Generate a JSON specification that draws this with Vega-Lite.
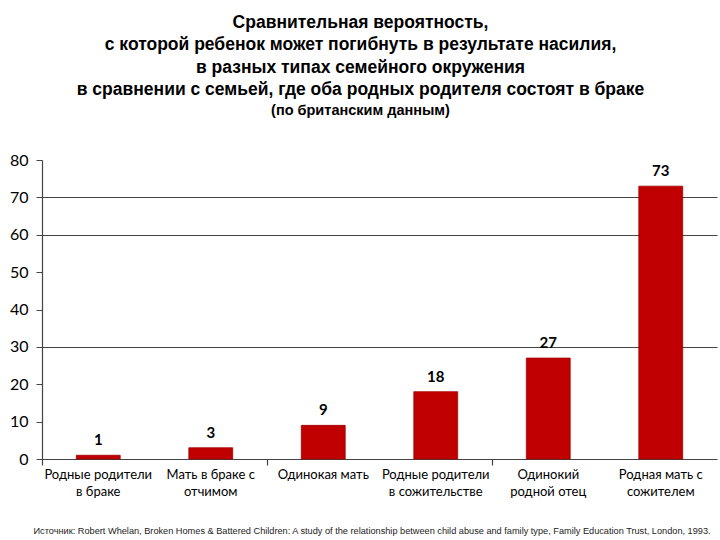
{
  "$schema": "https://vega.github.io/schema/vega-lite/v6.json",
  "autosize": "none",
  "width": 675,
  "height": 299,
  "padding": {"left": 42, "top": 160, "right": 3, "bottom": 81},
  "background": "white",
  "config": {"view": {"stroke": null}},
  "title": {
    "text": ["Сравнительная вероятность,", "с которой ребенок может погибнуть в результате насилия,", "в разных типах семейного окружения", "в сравнении с семьей, где оба родных родителя состоят в браке"],
    "subtitle": "(по британским данным)",
    "font": "Liberation Sans",
    "fontSize": 17.5,
    "fontWeight": "bold",
    "lineHeight": 22.5,
    "color": "black",
    "subtitleFont": "Liberation Sans",
    "subtitleFontSize": 14.5,
    "subtitleFontWeight": "bold",
    "subtitleColor": "black",
    "subtitlePadding": 5,
    "anchor": "middle",
    "frame": "group",
    "dx": -19,
    "offset": 35
  },
  "data": {
    "values": [
      {"cat": "Родные родители|в браке", "v": 1},
      {"cat": "Мать в браке с|отчимом", "v": 3},
      {"cat": "Одинокая мать", "v": 9},
      {"cat": "Родные родители|в сожительстве", "v": 18},
      {"cat": "Одинокий|родной отец", "v": 27},
      {"cat": "Родная мать с|сожителем", "v": 73}
    ]
  },
  "resolve": {"axis": {"x": "independent", "y": "independent"}},
  "layer": [
    {
      "mark": {"type": "bar", "width": {"band": 0.39}, "color": "#C00000", "stroke": "#A00000", "strokeWidth": 0.8},
      "encoding": {
        "x": {
          "field": "cat", "type": "nominal", "sort": null,
          "scale": {"paddingInner": 0, "paddingOuter": 0},
          "axis": {
            "orient": "bottom",
            "title": "Источник:  Robert Whelan, Broken Homes & Battered Children:  A study of the relationship between child abuse and family type, Family Education Trust, London, 1993.",
            "titleFont": "Liberation Sans", "titleFontSize": 9.2, "titleFontWeight": "normal", "titleColor": "#222",
            "titleAnchor": "start", "titleAlign": "left", "titleBaseline": "alphabetic", "titleX": -9, "titleY": 74,
            "labelAngle": 0, "labelFont": "Lato", "labelFontSize": 13, "labelColor": "black",
            "labelExpr": "split(datum.value, '|')", "labelLineHeight": 17, "labelPadding": 9,
            "ticks": false, "domain": true, "domainColor": "#444", "domainWidth": 1.2
          }
        },
        "y": {
          "field": "v", "type": "quantitative",
          "scale": {"domain": [0, 80]},
          "axis": {
            "orient": "left",
            "title": null, "grid": false, "values": [0, 10, 20, 30, 40, 50, 60, 70, 80],
            "labelFont": "Lato", "labelFontSize": 16, "labelColor": "black", "labelPadding": 8,
            "tickSize": 6, "tickColor": "#444", "domainColor": "#444", "domainWidth": 1.2
          }
        }
      }
    },
    {
      "mark": {"type": "text", "dy": -10, "baseline": "alphabetic", "font": "Lato", "fontSize": 15, "fontWeight": "bold", "color": "black"},
      "encoding": {
        "x": {
          "field": "cat", "type": "nominal", "sort": null,
          "axis": {
            "orient": "bottom",
            "title": null, "labels": false, "domain": false, "ticks": true, "tickSize": 6, "tickColor": "#444", "tickWidth": 1.2,
            "bandPosition": 0, "values": ["Родные родители|в браке", "Одинокая мать", "Одинокий|родной отец"]
          }
        },
        "y": {
          "field": "v", "type": "quantitative",
          "axis": {
            "orient": "left",
            "title": null, "labels": false, "domain": false, "ticks": false,
            "grid": true, "gridColor": "#444", "gridWidth": 1, "values": [30, 60, 70]
          }
        },
        "text": {"field": "v", "type": "quantitative"}
      }
    }
  ]
}
